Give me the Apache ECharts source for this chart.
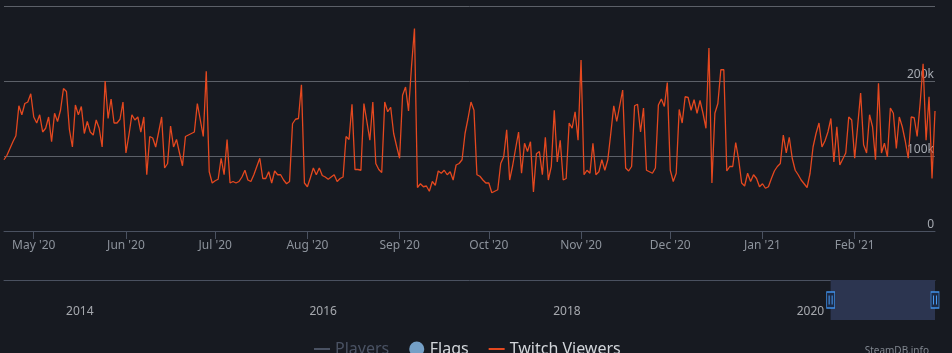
<!DOCTYPE html>
<html>
<head>
<meta charset="utf-8">
<script src="https://cdn.jsdelivr.net/npm/echarts@6/dist/echarts.min.js"></script>
<style>
html, body { margin: 0; padding: 0; background: #171a21; }
#main { width: 952px; height: 353px; }
</style>
</head>
<body>
<div id="main"></div>
<script>
// daily twitch viewers (thousands), first day = startDate
var startDate = '2020-04-21';
var viewersK = [
 95,101,110,119,127,167,155,170,172,183,152,144,155,132,137,152,119,157,146,161,
 190,186,135,112,168,155,166,130,146,132,128,148,137,112,200,150,176,144,144,149,
 172,104,128,155,148,152,132,152,75,126,124,112,132,152,84,90,140,112,122,104,
 87,126,128,130,132,170,148,126,213,79,64,67,69,97,75,122,64,66,64,66,
 72,81,68,66,75,86,97,70,70,79,64,80,75,75,68,63,66,143,149,150,
 195,64,59,71,84,75,84,74,72,69,72,75,66,70,72,126,122,169,82,82,
 81,170,146,121,172,90,82,78,172,159,165,130,113,97,181,192,160,219,270,58,
 63,59,60,53,66,61,80,77,81,75,79,68,88,90,95,130,150,172,161,75,
 73,68,64,64,51,53,55,90,99,135,68,87,110,132,77,117,106,119,52,103,
 106,75,125,68,86,161,92,121,68,70,144,137,159,121,228,75,81,77,117,75,
 79,95,81,95,130,167,146,167,188,84,80,86,167,169,132,164,81,79,77,84,
 168,176,166,198,81,66,77,162,144,179,178,161,175,157,174,157,137,244,64,157,
 170,215,215,80,86,86,118,95,64,60,77,66,75,70,59,63,57,59,70,80,
 86,90,128,104,125,97,81,75,68,63,58,77,112,130,144,112,120,132,150,92,
 139,88,96,104,152,148,97,140,184,115,104,155,139,95,197,104,117,99,164,157,
 110,152,139,120,97,152,151,126,170,223,121,179,70,160
];
// navigator (full history) range and its year labels
var navMin = '2013-07-08';
var navYears = ['2014', '2016', '2018', '2020'];
var monthNames = ['Jan','Feb','Mar','Apr','May','Jun','Jul','Aug','Sep','Oct','Nov','Dec'];

var chart = echarts.init(document.getElementById('main'));

var dates = [];
var t0 = Date.parse(startDate + 'T00:00:00Z');
for (var i = 0; i < viewersK.length; i++) {
    dates.push(new Date(t0 + i * 86400000).toISOString().slice(0, 10));
}
var rangeStart = Date.parse(dates[0] + 'T00:00:00Z');
var rangeEnd = Date.parse(dates[dates.length - 1] + 'T00:00:00Z');

function isMonthStart(idx, value) {
    return value.slice(8) === '01';
}

var lineIcon = 'path://M0,0H16V2H0Z';
var handleLines = 'path://M0,0H1V10H0Z M3,0H4V10H3Z';

option = {
    backgroundColor: '#171a21',
    animation: false,
    textStyle: { fontFamily: 'Noto Sans' },
    grid: [
        { left: 4, right: 17, top: 6, height: 225 },
        { left: 4, right: 17, top: 280, height: 40 }
    ],
    xAxis: [{
        type: 'category',
        gridIndex: 0,
        data: dates,
        boundaryGap: false,
        axisLine: { lineStyle: { color: '#4a5160' } },
        axisTick: { show: true, interval: isMonthStart, length: 8, lineStyle: { color: '#4a5160' } },
        axisLabel: {
            interval: isMonthStart,
            color: '#8d939c',
            fontSize: 12,
            margin: 9,
            formatter: function (v) {
                return monthNames[+v.slice(5, 7) - 1] + " '" + v.slice(2, 4);
            }
        },
        splitLine: { show: false }
    }, {
        type: 'time',
        gridIndex: 1,
        min: navMin,
        max: rangeEnd,
        position: 'top',
        axisLine: { onZero: false, lineStyle: { color: '#4a5160' } },
        axisTick: { show: false },
        axisLabel: { show: false },
        splitLine: { show: false }
    }],
    yAxis: [{
        type: 'value',
        gridIndex: 0,
        position: 'right',
        min: 0,
        max: 300,
        interval: 100,
        axisLine: { show: false },
        axisTick: { show: false },
        axisLabel: {
            inside: true,
            margin: 1,
            verticalAlign: 'bottom',
            color: '#a5a9b0',
            fontSize: 12,
            formatter: function (v) {
                if (v === 300) return '';
                return v === 0 ? '0' : v + 'k';
            }
        },
        splitLine: { lineStyle: { color: '#5c6068', width: 1 } }
    }, {
        type: 'value',
        gridIndex: 1,
        min: 0,
        max: 1,
        show: false
    }],
    legend: {
        left: 309,
        top: 336,
        itemWidth: 16,
        itemHeight: 15,
        itemGap: 20,
        symbolKeepAspect: true,
        inactiveColor: '#4a5263',
        textStyle: { color: '#d2d5da', fontSize: 16 },
        selected: { 'Players': false },
        data: [
            { name: 'Players', icon: lineIcon },
            { name: 'Flags', icon: 'circle' },
            { name: 'Twitch Viewers', icon: lineIcon }
        ]
    },
    graphic: [{
        type: 'text',
        right: 23,
        top: 346,
        style: { text: 'SteamDB.info', fill: '#80868f', fontSize: 10, fontFamily: 'Noto Sans' }
    }],
    series: [{
        name: 'Players',
        type: 'line',
        xAxisIndex: 0,
        yAxisIndex: 0,
        symbol: 'none',
        color: '#4f5768',
        data: []
    }, {
        name: 'Flags',
        type: 'scatter',
        xAxisIndex: 0,
        yAxisIndex: 0,
        color: '#8cc0f0',
        data: []
    }, {
        name: 'Twitch Viewers',
        type: 'line',
        xAxisIndex: 0,
        yAxisIndex: 0,
        symbol: 'none',
        color: '#e4481f',
        lineStyle: { width: 1.3 },
        data: viewersK
    }, {
        name: 'navigator',
        type: 'scatter',
        xAxisIndex: 1,
        yAxisIndex: 1,
        symbolSize: 0.1,
        itemStyle: { color: 'rgba(0,0,0,0)' },
        silent: true,
        label: {
            show: true,
            position: 'right',
            distance: 3,
            color: '#c9ccd1',
            fontSize: 12,
            formatter: function (p) { return p.value[2]; }
        },
        data: navYears.map(function (y) { return [y + '-01-01', 0.2, y]; }),
        markArea: {
            silent: true,
            itemStyle: { color: '#2c3550' },
            data: [[{ xAxis: rangeStart }, { xAxis: rangeEnd }]]
        },
        markPoint: {
            silent: true,
            label: { show: false },
            data: [
                { coord: [rangeStart, 0.5], symbol: 'rect', symbolSize: [8, 16], itemStyle: { color: '#1c2b47', borderColor: '#3f91ea', borderWidth: 1 } },
                { coord: [rangeEnd, 0.5], symbol: 'rect', symbolSize: [8, 16], itemStyle: { color: '#1c2b47', borderColor: '#3f91ea', borderWidth: 1 } },
                { coord: [rangeStart, 0.5], symbol: handleLines, symbolSize: [4, 9], itemStyle: { color: '#4a9af0' } },
                { coord: [rangeEnd, 0.5], symbol: handleLines, symbolSize: [4, 9], itemStyle: { color: '#4a9af0' } }
            ]
        }
    }]
};

if (option && typeof option === "object") {
    chart.setOption(option, true);
}
</script>
</body>
</html>
